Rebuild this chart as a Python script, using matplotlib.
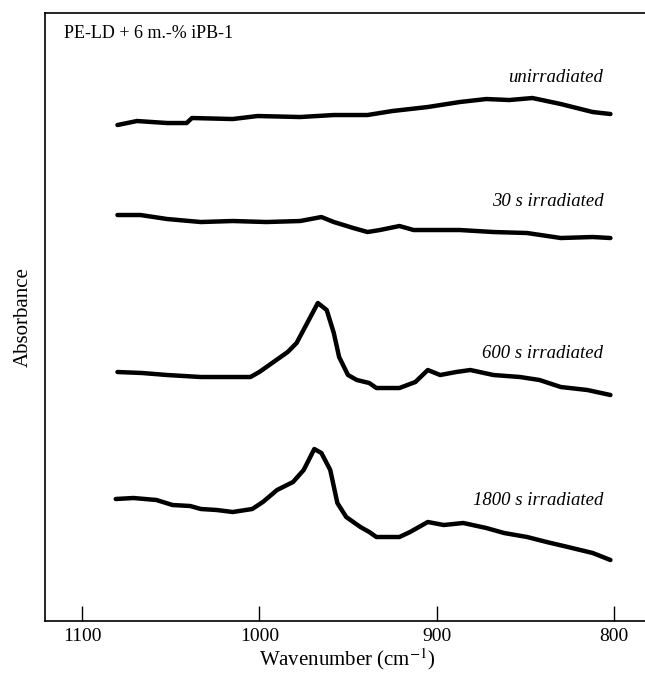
import matplotlib
matplotlib.use("Agg")
import matplotlib.pyplot as plt

plt.rcParams["font.family"] = ["Liberation Serif", "DejaVu Serif"]
plt.rcParams["mathtext.fontset"] = "stix"

# =========================
# DATA (arbitrary absorbance units with stacking offsets)
# =========================

unirr_wn = [1080, 1069, 1052, 1041, 1038, 1015, 1001, 977, 958, 939,
            925, 905, 887, 872, 859, 846, 830, 821, 812, 802]
unirr_abs = [4.96, 5.00, 4.98, 4.98, 5.03, 5.02, 5.05, 5.04, 5.06, 5.06,
             5.10, 5.14, 5.19, 5.22, 5.21, 5.23, 5.17, 5.13, 5.09, 5.07]

s30_wn = [1080, 1067, 1052, 1033, 1015, 996, 977, 965, 958, 947,
          939, 932, 921, 913, 887, 868, 849, 830, 812, 802]
s30_abs = [4.06, 4.06, 4.02, 3.99, 4.00, 3.99, 4.00, 4.04, 3.99, 3.93,
           3.89, 3.91, 3.95, 3.91, 3.91, 3.89, 3.88, 3.83, 3.84, 3.83]

s600_wn = [1080, 1066, 1052, 1033, 1015, 1005, 1000, 992, 984, 979,
           973, 967, 962, 958, 955, 950, 945, 938, 934, 921,
           912, 905, 898, 889, 881, 868, 853, 842, 830, 815, 802]
s600_abs = [2.49, 2.48, 2.46, 2.44, 2.44, 2.44, 2.49, 2.59, 2.69, 2.78,
            2.98, 3.18, 3.11, 2.88, 2.64, 2.46, 2.41, 2.38, 2.33, 2.33,
            2.39, 2.51, 2.46, 2.49, 2.51, 2.46, 2.44, 2.41, 2.34, 2.31, 2.26]

s1800_wn = [1081, 1071, 1058, 1049, 1039, 1033, 1024, 1015, 1004, 998,
            990, 981, 975, 969, 965, 960, 956, 951, 943, 938,
            934, 921, 915, 905, 896, 885, 872, 862, 849, 838,
            826, 812, 802]
s1800_abs = [1.22, 1.23, 1.21, 1.16, 1.15, 1.12, 1.11, 1.09, 1.12, 1.19,
             1.31, 1.39, 1.51, 1.72, 1.68, 1.51, 1.18, 1.04, 0.94, 0.89,
             0.84, 0.84, 0.89, 0.99, 0.96, 0.98, 0.93, 0.88, 0.84, 0.79,
             0.74, 0.68, 0.61]

series = [
    ("unirradiated", unirr_wn, unirr_abs, 5.44),
    ("30 s irradiated", s30_wn, s30_abs, 4.20),
    ("600 s irradiated", s600_wn, s600_abs, 2.68),
    ("1800 s irradiated", s1800_wn, s1800_abs, 1.21),
]

x_ticks = [1100, 1000, 900, 800]
sample_label = "PE-LD + 6 m.-% iPB-1"

# =========================
# PLOT
# =========================

fig = plt.figure(figsize=(6.45, 6.75), dpi=100)
ax = fig.add_axes([0.0705, 0.08, 0.9364, 0.9007])

for name, wn, ab, label_y in series:
    ax.plot(wn, ab, color="black", linewidth=3.2, solid_capstyle="round",
            solid_joinstyle="round")
    ax.text(806, label_y, name, ha="right", va="center",
            fontsize=13.5, style="italic")

ax.text(0.03, 0.967, sample_label, transform=ax.transAxes,
        ha="left", va="center", fontsize=13)

ax.set_xlim(1120.6, 780)
ax.set_ylim(0, 6.08)
ax.set_xticks(x_ticks)
ax.set_yticks([])
ax.tick_params(axis="x", direction="in", length=11, width=1.0,
               labelsize=14, pad=5)

for side in ["top", "bottom", "left", "right"]:
    ax.spines[side].set_linewidth(1.2)

ax.set_xlabel("Wavenumber (cm$^{-1}$)", fontsize=15, labelpad=1)
ax.set_ylabel("Absorbance", fontsize=15, labelpad=9)

fig.savefig("out.png", dpi=100)
plt.close(fig)
